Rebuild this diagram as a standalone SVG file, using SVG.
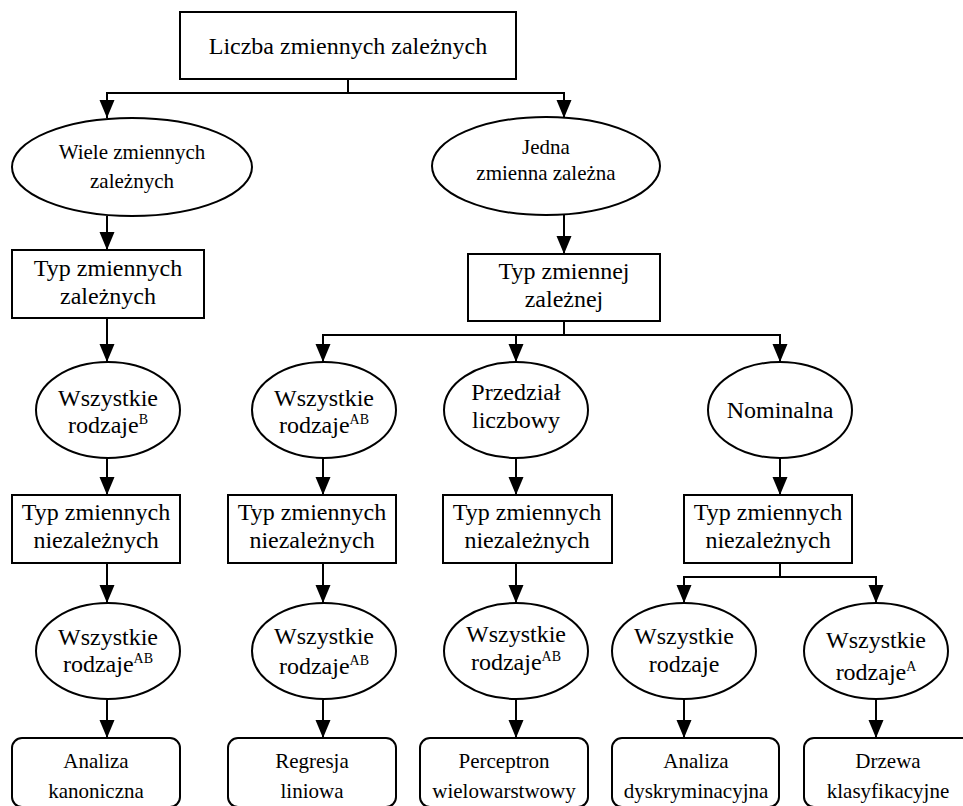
<svg xmlns="http://www.w3.org/2000/svg" width="963" height="806" viewBox="0 0 963 806" font-family="'Liberation Serif', 'Times New Roman', 'DejaVu Serif', serif">
<defs>
<marker id="arr" markerUnits="userSpaceOnUse" markerWidth="18" markerHeight="16" refX="18" refY="7.5" orient="auto">
<path d="M0,0 L18,7.5 L0,15 z" fill="#000"/>
</marker>
<style>
.n{fill:#fff;stroke:#000;stroke-width:2}
.t{fill:#000;text-anchor:middle}
.s24{font-size:24px}
.s21{font-size:21px}
.sup{font-size:14px}
.c{fill:none;stroke:#000;stroke-width:2}
</style>
</defs>
<rect x="0" y="0" width="963" height="806" fill="#fff"/>
<g id="connectors">
<path class="c" d="M348,79 V93 H107 V118" marker-end="url(#arr)"/>
<path class="c" d="M348,93 H564 V118" marker-end="url(#arr)"/>
<path class="c" d="M107,216 V250" marker-end="url(#arr)"/>
<path class="c" d="M564,215 V254" marker-end="url(#arr)"/>
<path class="c" d="M107,318 V362" marker-end="url(#arr)"/>
<path class="c" d="M564,321 V335 H323 V362" marker-end="url(#arr)"/>
<path class="c" d="M516,335 V362" marker-end="url(#arr)"/>
<path class="c" d="M564,335 H780 V362" marker-end="url(#arr)"/>
<path class="c" d="M107,458 V495" marker-end="url(#arr)"/>
<path class="c" d="M323,458 V495" marker-end="url(#arr)"/>
<path class="c" d="M516,458 V495" marker-end="url(#arr)"/>
<path class="c" d="M780,458 V495" marker-end="url(#arr)"/>
<path class="c" d="M107,563 V603" marker-end="url(#arr)"/>
<path class="c" d="M323,563 V603" marker-end="url(#arr)"/>
<path class="c" d="M516,563 V603" marker-end="url(#arr)"/>
<path class="c" d="M780,563 V577 H684 V603" marker-end="url(#arr)"/>
<path class="c" d="M780,577 H876 V603" marker-end="url(#arr)"/>
<path class="c" d="M107,700 V738" marker-end="url(#arr)"/>
<path class="c" d="M323,700 V738" marker-end="url(#arr)"/>
<path class="c" d="M516,700 V738" marker-end="url(#arr)"/>
<path class="c" d="M684,700 V738" marker-end="url(#arr)"/>
<path class="c" d="M876,700 V738" marker-end="url(#arr)"/>
</g>
<g id="n-root">
<rect class="n" x="180" y="12" width="336" height="67"/>
<text class="t s24" x="348" y="54">Liczba zmiennych zależnych</text>
</g>
<g id="n-wiele">
<ellipse class="n" cx="132" cy="167" rx="120" ry="49"/>
<text class="t s21" x="132" y="159">Wiele zmiennych</text>
<text class="t s21" x="132" y="188">zależnych</text>
</g>
<g id="n-jedna">
<ellipse class="n" cx="546" cy="166" rx="114" ry="49"/>
<text class="t s21" x="546" y="154">Jedna</text>
<text class="t s21" x="546" y="180">zmienna zależna</text>
</g>
<g id="n-typzal">
<rect class="n" x="12" y="250" width="192" height="68"/>
<text class="t s24" x="108" y="276">Typ zmiennych</text>
<text class="t s24" x="108" y="304">zależnych</text>
</g>
<g id="n-typzal1">
<rect class="n" x="468" y="254" width="192" height="67"/>
<text class="t s24" x="564" y="279">Typ zmiennej</text>
<text class="t s24" x="564" y="307">zależnej</text>
</g>
<g id="n-r3c1">
<ellipse class="n" cx="108" cy="410" rx="72" ry="48"/>
<text class="t s24" x="108" y="406">Wszystkie</text>
<text class="t s24" x="108" y="433">rodzaje<tspan class="sup" dy="-9">B</tspan></text>
</g>
<g id="n-r3c2">
<ellipse class="n" cx="324" cy="410" rx="72" ry="48"/>
<text class="t s24" x="324" y="406">Wszystkie</text>
<text class="t s24" x="324" y="433">rodzaje<tspan class="sup" dy="-9">AB</tspan></text>
</g>
<g id="n-r3c3">
<ellipse class="n" cx="516" cy="410" rx="72" ry="48"/>
<text class="t s24" x="516" y="400">Przedział</text>
<text class="t s24" x="516" y="428">liczbowy</text>
</g>
<g id="n-r3c4">
<ellipse class="n" cx="780" cy="410" rx="72" ry="48"/>
<text class="t s24" x="780" y="418">Nominalna</text>
</g>
<g id="n-r4b1">
<rect class="n" x="12" y="495" width="168" height="68"/>
<text class="t s24" x="96" y="520">Typ zmiennych</text>
<text class="t s24" x="96" y="548">niezależnych</text>
</g>
<g id="n-r4b2">
<rect class="n" x="228" y="495" width="168" height="68"/>
<text class="t s24" x="312" y="520">Typ zmiennych</text>
<text class="t s24" x="312" y="548">niezależnych</text>
</g>
<g id="n-r4b3">
<rect class="n" x="443" y="495" width="169" height="68"/>
<text class="t s24" x="527" y="520">Typ zmiennych</text>
<text class="t s24" x="527" y="548">niezależnych</text>
</g>
<g id="n-r4b4">
<rect class="n" x="684" y="495" width="168" height="68"/>
<text class="t s24" x="768" y="520">Typ zmiennych</text>
<text class="t s24" x="768" y="548">niezależnych</text>
</g>
<g id="n-r5c1">
<ellipse class="n" cx="108" cy="651" rx="72" ry="48"/>
<text class="t s24" x="108" y="645">Wszystkie</text>
<text class="t s24" x="108" y="672">rodzaje<tspan class="sup" dy="-9">AB</tspan></text>
</g>
<g id="n-r5c2">
<ellipse class="n" cx="324" cy="651" rx="72" ry="48"/>
<text class="t s24" x="324" y="644">Wszystkie</text>
<text class="t s24" x="324" y="674">rodzaje<tspan class="sup" dy="-9">AB</tspan></text>
</g>
<g id="n-r5c3">
<ellipse class="n" cx="516" cy="651" rx="72" ry="48"/>
<text class="t s24" x="516" y="642">Wszystkie</text>
<text class="t s24" x="516" y="670">rodzaje<tspan class="sup" dy="-9">AB</tspan></text>
</g>
<g id="n-r5c4">
<ellipse class="n" cx="684" cy="651" rx="72" ry="48"/>
<text class="t s24" x="684" y="644">Wszystkie</text>
<text class="t s24" x="684" y="672">rodzaje</text>
</g>
<g id="n-r5c5">
<ellipse class="n" cx="876" cy="651" rx="72" ry="48"/>
<text class="t s24" x="876" y="648">Wszystkie</text>
<text class="t s24" x="876" y="680">rodzaje<tspan class="sup" dy="-9">A</tspan></text>
</g>
<g id="n-kan">
<rect class="n" x="12" y="738" width="168" height="69" rx="10"/>
<text class="t s21" x="96" y="768">Analiza</text>
<text class="t s21" x="96" y="798">kanoniczna</text>
</g>
<g id="n-reg">
<rect class="n" x="228" y="738" width="168" height="69" rx="10"/>
<text class="t s21" x="312" y="768">Regresja</text>
<text class="t s21" x="312" y="798">liniowa</text>
</g>
<g id="n-per">
<rect class="n" x="420" y="738" width="168" height="69" rx="10"/>
<text class="t s21" x="504" y="768">Perceptron</text>
<text class="t s21" x="504" y="798">wielowarstwowy</text>
</g>
<g id="n-dys">
<rect class="n" x="612" y="738" width="167" height="69" rx="10"/>
<text class="t s21" x="696" y="768">Analiza</text>
<text class="t s21" x="696" y="798">dyskryminacyjna</text>
</g>
<g id="n-drz">
<rect class="n" x="804" y="738" width="168" height="69" rx="10"/>
<text class="t s21" x="888" y="768">Drzewa</text>
<text class="t s21" x="888" y="798">klasyfikacyjne</text>
</g>
</svg>
